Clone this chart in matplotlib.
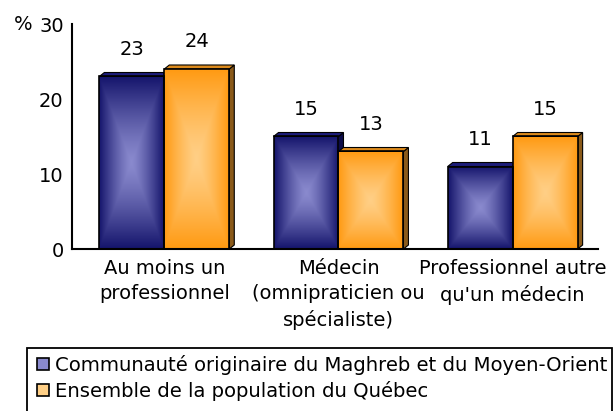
import numpy as np
import matplotlib.pyplot as plt
from matplotlib.patches import Polygon, Patch, Rectangle
from matplotlib.colors import to_rgb

# data
categories = ['Au moins un\nprofessionnel',
              'Médecin\n(omnipraticien ou\nspécialiste)',
              "Professionnel autre\nqu'un médecin"]
maghreb = [23, 15, 11]
quebec = [24, 13, 15]
series_names = ['Communauté originaire du Maghreb et du Moyen-Orient',
                'Ensemble de la population du Québec']
yticks = [0, 10, 20, 30]

# colours: edge of gradient, centre of gradient, top face, side face
styles = [
    dict(edge='#15156c', centre='#8a8ace', top='#1c1c7a', side='#0c0c4a'),
    dict(edge='#ff9a12', centre='#ffcf86', top='#dc8a1c', side='#8a5a1a'),
]

plt.rcParams['font.family'] = 'DejaVu Sans'
plt.rcParams['font.size'] = 14

W, H = 615, 411
fig = plt.figure(figsize=(W / 100, H / 100), dpi=100)
ax = fig.add_axes([72 / W, 1 - 249 / H, 526 / W, 225 / H])

xlim = (-0.53, 2.49)
ylim = (0, 30)
ax.set_xlim(*xlim)
ax.set_ylim(*ylim)

# depth of the fake 3d effect, in data units
dx = 5 * (xlim[1] - xlim[0]) / 526
dy = 4 * (ylim[1] - ylim[0]) / 225

width = 0.373
x = np.arange(len(categories))


def gradient_image(style, n=80):
    u = np.linspace(-1, 1, n)
    uu, vv = np.meshgrid(u, u)
    t = np.maximum(np.abs(uu), np.abs(vv)) ** 1.3
    c0 = np.array(to_rgb(style['centre']))
    c1 = np.array(to_rgb(style['edge']))
    return c0 * (1 - t[..., None]) + c1 * t[..., None]


def draw_bar(x0, h, style):
    x1 = x0 + width
    side = Polygon([(x1, 0), (x1, h), (x1 + dx, h + dy), (x1 + dx, dy)],
                   closed=True, facecolor=style['side'], edgecolor='black',
                   linewidth=0.8, zorder=2)
    top = Polygon([(x0, h), (x1, h), (x1 + dx, h + dy), (x0 + dx, h + dy)],
                  closed=True, facecolor=style['top'], edgecolor='black',
                  linewidth=0.8, zorder=2)
    ax.add_patch(side)
    ax.add_patch(top)
    bar = ax.bar(x0, h, width, align='edge', facecolor='none',
                 edgecolor='black', linewidth=1.2, zorder=3)[0]
    img = ax.imshow(gradient_image(style), extent=(x0, x1, 0, h),
                    aspect='auto', zorder=2.5, interpolation='bilinear')
    img.set_clip_path(bar)
    ax.annotate(str(h), (x0 + width / 2, h), xytext=(0, 19.5),
                textcoords='offset points', ha='center', va='center')


for i in range(len(categories)):
    draw_bar(x[i] - width, maghreb[i], styles[0])
    draw_bar(x[i], quebec[i], styles[1])

ax.set_xlim(*xlim)
ax.set_ylim(*ylim)

for s in ['top', 'right']:
    ax.spines[s].set_visible(False)
for s in ['left', 'bottom']:
    ax.spines[s].set_linewidth(1.5)
    ax.spines[s].set_color('black')

ax.set_yticks(yticks)
ax.set_xticks(x)
ax.set_xticklabels(categories, linespacing=1.43)
ax.tick_params(axis='both', length=0)
ax.tick_params(axis='y', pad=6)
ax.tick_params(axis='x', pad=7)

fig.text(23 / W, 1 - 24 / H, '%', ha='center', va='center')

# legend frame runs off the bottom of the picture, as in the reference
fig.patches.append(Rectangle((27 / W, -0.05), 585 / W, 1 - 348 / H + 0.05,
                             transform=fig.transFigure, facecolor='white',
                             edgecolor='black', linewidth=1.3, zorder=1))
handles = [Patch(facecolor=st['centre'], edgecolor='black', linewidth=1.2)
           for st in styles]
leg = fig.legend(handles, series_names, loc='upper left',
                 bbox_to_anchor=(37 / W, 1 - 355 / H), frameon=False,
                 handlelength=0.62, handleheight=0.62, handletextpad=0.3,
                 borderpad=0.0, labelspacing=0.3, borderaxespad=0,
                 fontsize=14.1)
leg.set_zorder(2)

fig.savefig('out.png', dpi=100)
